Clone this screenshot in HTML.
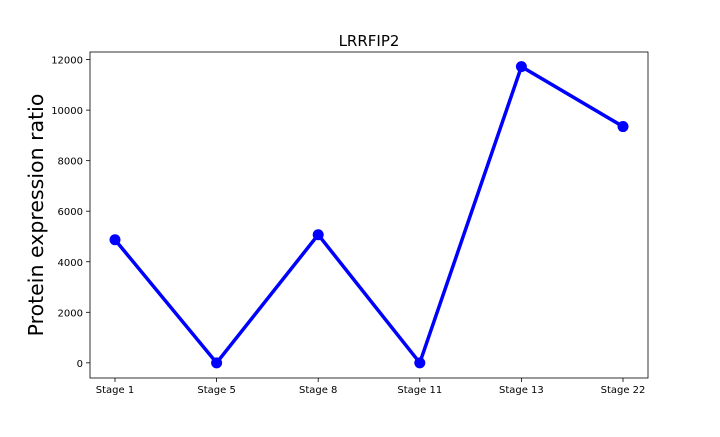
<!DOCTYPE html>
<html><head><meta charset="utf-8"><style>
body{margin:0;background:#fff;}
svg text{font-family:"DejaVu Sans","Liberation Sans",sans-serif;}
</style></head><body>
<svg id="chart" width="720" height="432"></svg>
<script>
const categories=["Stage 1","Stage 5","Stage 8","Stage 11","Stage 13","Stage 22"];
const values=[4870,0,5070,0,11720,9350];
const yTicks=[0,2000,4000,6000,8000,10000,12000];
const svg=document.getElementById('chart');
const NS='http://www.w3.org/2000/svg';
const L=90,R=648,T=52,B=378;
const yMin=-600,yMax=12300;
function y(v){return B-(v-yMin)/(yMax-yMin)*(B-T);}
function x(i){return 115+i*(623-115)/(categories.length-1);}
function mk(tag,attrs,parent){const e=document.createElementNS(NS,tag);for(const k in attrs)e.setAttribute(k,attrs[k]);(parent||svg).appendChild(e);return e;}
const frame=mk('rect',{x:L,y:T,width:R-L,height:B-T,fill:'none',stroke:'#000','stroke-width':0.8});


yTicks.forEach(v=>{
  const t=mk('line',{x1:L-4,x2:L,y1:y(v),y2:y(v),stroke:'#000','stroke-width':0.8});
  
  
  const tx=mk('text',{x:L-7,y:y(v)+4,'text-anchor':'end','font-size':10});
  tx.textContent=v;
  
  
});
categories.forEach((c,i)=>{
  const t=mk('line',{x1:x(i),x2:x(i),y1:B,y2:B+4,stroke:'#000','stroke-width':0.8});
  
  
  const tx=mk('text',{x:x(i),y:B+15,'text-anchor':'middle','font-size':10});
  tx.textContent=c;
  
  
});
const pts=values.map((v,i)=>x(i)+','+y(v)).join(' ');
const line=mk('polyline',{points:pts,fill:'none',stroke:'#0000ff','stroke-width':3.5,'stroke-linejoin':'miter'});


values.forEach((v,i)=>{
  const c=mk('circle',{cx:x(i),cy:y(v),r:5.5,fill:'#0000ff'});
  
  
});
const title=mk('text',{x:(L+R)/2,y:46,'text-anchor':'middle','font-size':15});
title.textContent='LRRFIP2';


const yl=mk('text',{x:0,y:0,'text-anchor':'middle','font-size':20.5,transform:'translate(43,'+((T+B)/2)+') rotate(-90)'});
yl.textContent='Protein expression ratio';


</script>
</body></html>
